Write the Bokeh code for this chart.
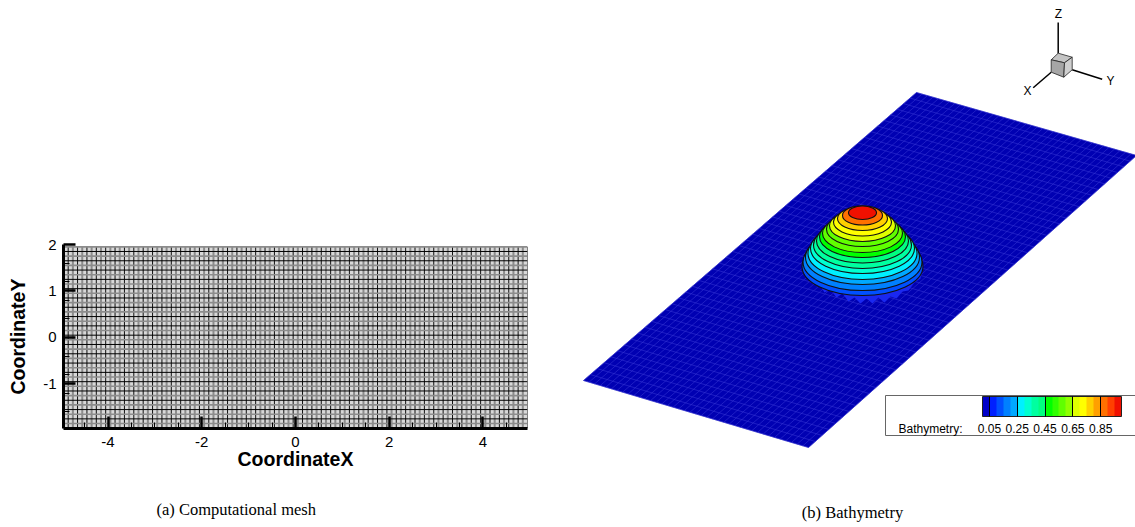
import numpy as np
from bokeh.plotting import figure
from bokeh.layouts import row
from bokeh.embed import file_html
from bokeh.resources import INLINE
from bokeh.models import (Range1d, FixedTicker, Label, ColorBar, LinearColorMapper, Title, AllLabels)

# ---------- panel (a) data ----------
x_ticks = [-4, -2, 0, 2, 4]
x_minor = [-4.5, -3.5, -3, -2.5, -1.5, -1, -0.5, 0.5, 1, 1.5, 2.5, 3, 3.5, 4.5]
y_ticks = [-1, 0, 1, 2]
y_minor = [-1.6, -1.2, -0.8, -0.4, 0.4, 0.8, 1.2, 1.6]
x_extent = [-4.95, 4.95]
y_extent = [-1.957, 2.0]
mesh_x = [round(-4.95 + 0.1 * i, 2) for i in range(100)]
mesh_y = [round(-1.95 + 0.1 * i, 2) for i in range(40)]

# ---------- panel (b) data ----------
plate_u = [0, 1, 1, 0]
plate_v = [0, 0, 1, 1]
plate_px = [583, 916, 1136, 808]
plate_py = [380, 92, 155, 447]
n_long, n_short = 50, 40
ring_front = [295, 290, 284, 279, 273, 268, 262.5, 257, 252, 246, 241, 235.5, 230, 224.5, 219]
ring_rx = [60.5, 59.5, 57, 54.5, 52, 49, 46, 43, 40, 36, 33, 29, 25, 20, 14]
ring_level = [0.10, 0.16, 0.21, 0.27, 0.32, 0.38, 0.43, 0.49, 0.55, 0.60, 0.66, 0.71, 0.77, 0.87, 0.97]
skirt_x = [802, 806, 812, 818, 824, 830, 836, 842, 848, 854, 860, 866, 872, 878, 884, 890, 896, 902, 908, 914, 920, 922]
skirt_y = [262, 272, 283, 282, 292, 289, 297, 293, 301, 297, 303, 298, 303, 297, 302, 296, 298, 291, 290, 282, 278, 266]
palette = ["#0000c8", "#0020ff", "#0050ff", "#0080ff", "#00a8ff", "#00f0ff", "#00ffd0", "#00ffa0", "#00ff80", "#00ff00",
           "#30ff00", "#60ff00", "#90ff00", "#e0ff00", "#ffff00", "#ffd000", "#ffa000", "#ff7000", "#ff4000", "#f01000"]
bar_ticks = [0.05, 0.25, 0.45, 0.65, 0.85]
triad_lines_x = [[1057.7, 1057.7], [1071.7, 1101.7], [1050.7, 1032.7]]
triad_lines_y = [[53, 22], [69.3, 78.7], [71.7, 87.3]]
cube_x = [[1057.7, 1071.7, 1064, 1050.7], [1050.7, 1064, 1063.3, 1050.7], [1064, 1071.7, 1071.7, 1063.3]]
cube_y = [[52.7, 56.7, 62.3, 59.3], [59.3, 62.3, 76.7, 71.7], [62.3, 56.7, 69.3, 76.7]]
cube_col = ["#c4c4c4", "#a6a6a6", "#cfcfcf"]
SANS = "Liberation Sans"
SERIF = "Liberation Serif"

# ---------- panel (a) ----------
a = figure(width=568, height=527, output_backend="svg", toolbar_location=None,
           x_range=Range1d(*x_extent), y_range=Range1d(*y_extent), frame_align=False,
           frame_width=464, frame_height=184,
           min_border_left=63, min_border_right=41, min_border_top=244, min_border_bottom=99)
a.grid.visible = False
a.outline_line_color = None
a.background_fill_color = None
a.quad(left=[mesh_x[0]], right=[mesh_x[-1]], bottom=[mesh_y[0]], top=[mesh_y[-1]],
       fill_color="#d8d8d8", line_color=None)
a.segment(x0=mesh_x, x1=mesh_x, y0=[mesh_y[0]] * len(mesh_x), y1=[mesh_y[-1]] * len(mesh_x),
          line_color=["#111111" if i % 2 else "#8c8c8c" for i in range(len(mesh_x))],
          line_width=[1.0 if i % 2 else 2.0 for i in range(len(mesh_x))])
a.segment(x0=[mesh_x[0]] * len(mesh_y), x1=[mesh_x[-1]] * len(mesh_y), y0=mesh_y, y1=mesh_y,
          line_color=["#000000" if i % 2 == 0 else "#8c8c8c" for i in range(len(mesh_y))],
          line_width=[1.0 if i % 2 == 0 else 1.6 for i in range(len(mesh_y))])

for ax, major, minor in ((a.xaxis[0], x_ticks, x_minor), (a.yaxis[0], y_ticks, y_minor)):
    ax.ticker = FixedTicker(ticks=major, minor_ticks=minor)
    ax.major_label_overrides = {t: str(t) for t in major}
    ax.major_tick_in = 12
    ax.major_tick_out = 0
    ax.minor_tick_in = 6
    ax.minor_tick_out = 0
    ax.axis_line_width = 3
    ax.axis_line_color = "#000000"
    ax.major_tick_line_width = 2.5
    ax.major_tick_line_color = "#000000"
    ax.minor_tick_line_width = 1
    ax.minor_tick_line_color = "#000000"
    ax.major_label_text_font = SANS
    ax.major_label_text_font_size = "15px"
    ax.major_label_text_color = "#000000"
    ax.axis_label_text_font = SANS
    ax.axis_label_text_font_style = "bold"
    ax.axis_label_text_font_size = "19.5px"
    ax.axis_label_text_color = "#000000"
a.xaxis[0].axis_label = "CoordinateX"
a.yaxis[0].axis_label = "CoordinateY"
a.xaxis[0].major_label_standoff = 8
a.xaxis[0].axis_label_standoff = -2
a.yaxis[0].major_label_standoff = 7
a.yaxis[0].major_label_orientation = "horizontal"
a.yaxis[0].axis_label_standoff = 11
a.add_layout(Title(text="(a) Computational mesh", text_font=SERIF, text_font_size="16.5px",
                   text_font_style="normal", align="left", offset=93, standoff=51, text_color="#000000"), "below")

# ---------- panel (b) ----------
b = figure(width=567, height=527, output_backend="svg", toolbar_location=None,
           x_range=Range1d(568, 1135), y_range=Range1d(527, 0), frame_align=False,
           x_axis_location=None, y_axis_location=None,
           min_border_left=0, min_border_right=0, min_border_top=0, min_border_bottom=0)
b.grid.visible = False
b.outline_line_color = None


def homography():
    rows, rhs = [], []
    for u, v, X, Y in zip(plate_u, plate_v, plate_px, plate_py):
        rows.append([u, v, 1, 0, 0, 0, -u * X, -v * X]); rhs.append(X)
        rows.append([0, 0, 0, u, v, 1, -u * Y, -v * Y]); rhs.append(Y)
    return np.append(np.linalg.solve(np.array(rows, float), np.array(rhs, float)), 1.0)


H = homography()


def project(u, v):
    w = H[6] * u + H[7] * v + H[8]
    return (H[0] * u + H[1] * v + H[2]) / w, (H[3] * u + H[4] * v + H[5]) / w


b.patch(plate_px, plate_py, fill_color="#0000b2", line_color="#0000b2", line_width=0.5)
gx, gy = [], []
for i in range(n_long + 1):
    ends = [project(i / n_long, 0.0), project(i / n_long, 1.0)]
    gx.append([ends[0][0], ends[1][0]]); gy.append([ends[0][1], ends[1][1]])
for j in range(n_short + 1):
    ends = [project(0.0, j / n_short), project(1.0, j / n_short)]
    gx.append([ends[0][0], ends[1][0]]); gy.append([ends[0][1], ends[1][1]])
b.multi_line(gx, gy, line_color="#3c3cd8", line_width=0.5)

b.patch(skirt_x, skirt_y, fill_color="#1a28f0", line_color=None)


def band_color(level):
    return palette[min(int(level / 0.05), len(palette) - 1)]


ry = [r * 0.48 for r in ring_rx]
cy = [f - h for f, h in zip(ring_front, ry)]
b.ellipse(x=[862.0] * len(ring_rx), y=cy, width=[2 * r for r in ring_rx], height=[2 * h for h in ry],
          fill_color=[band_color(l) for l in ring_level], line_color="#111111", line_width=1.1)

# triad
b.multi_line(triad_lines_x, triad_lines_y, line_color="#000000", line_width=1.5)
b.patches(cube_x, cube_y, fill_color=cube_col, line_color="#222222", line_width=0.8)
for t, tx, ty in (("Z", 1058, 13), ("Y", 1110, 80), ("X", 1027, 90)):
    b.add_layout(Label(x=tx, y=ty, text=t, text_font=SANS, text_font_size="12px", text_align="center",
                       text_baseline="middle", text_color="#000000"))

# legend box
b.quad(left=[885], right=[1136], top=[395], bottom=[435], fill_color="#ffffff", line_color="#666666", line_width=1)
b.add_layout(Label(x=898, y=428, text="Bathymetry:", text_font=SANS, text_font_size="12px",
                   text_baseline="middle", text_align="left", text_color="#000000"))
mapper = LinearColorMapper(palette=palette, low=0.0, high=1.0)
bar = ColorBar(color_mapper=mapper, orientation="horizontal", ticker=FixedTicker(ticks=bar_ticks),
               display_low=0.025, display_high=0.977, major_label_policy=AllLabels(),
               width=139, height=20, padding=0, margin=0, location=(414, 92),
               bar_line_color="#222222", major_tick_in=20, major_tick_out=0,
               major_tick_line_color="#000000", major_tick_line_width=1, minor_tick_line_color=None,
               major_label_text_font=SANS, major_label_text_font_size="12px",
               major_label_text_color="#000000", label_standoff=7, background_fill_color=None,
               border_line_color=None)
b.add_layout(bar)
b.add_layout(Label(x=852, y=512, text="(b) Bathymetry", text_font=SERIF, text_font_size="16.5px",
                   text_align="center", text_baseline="middle", text_color="#000000"))

page = row(a, b, spacing=0)
open("out.html", "w").write(file_html(page, INLINE))
